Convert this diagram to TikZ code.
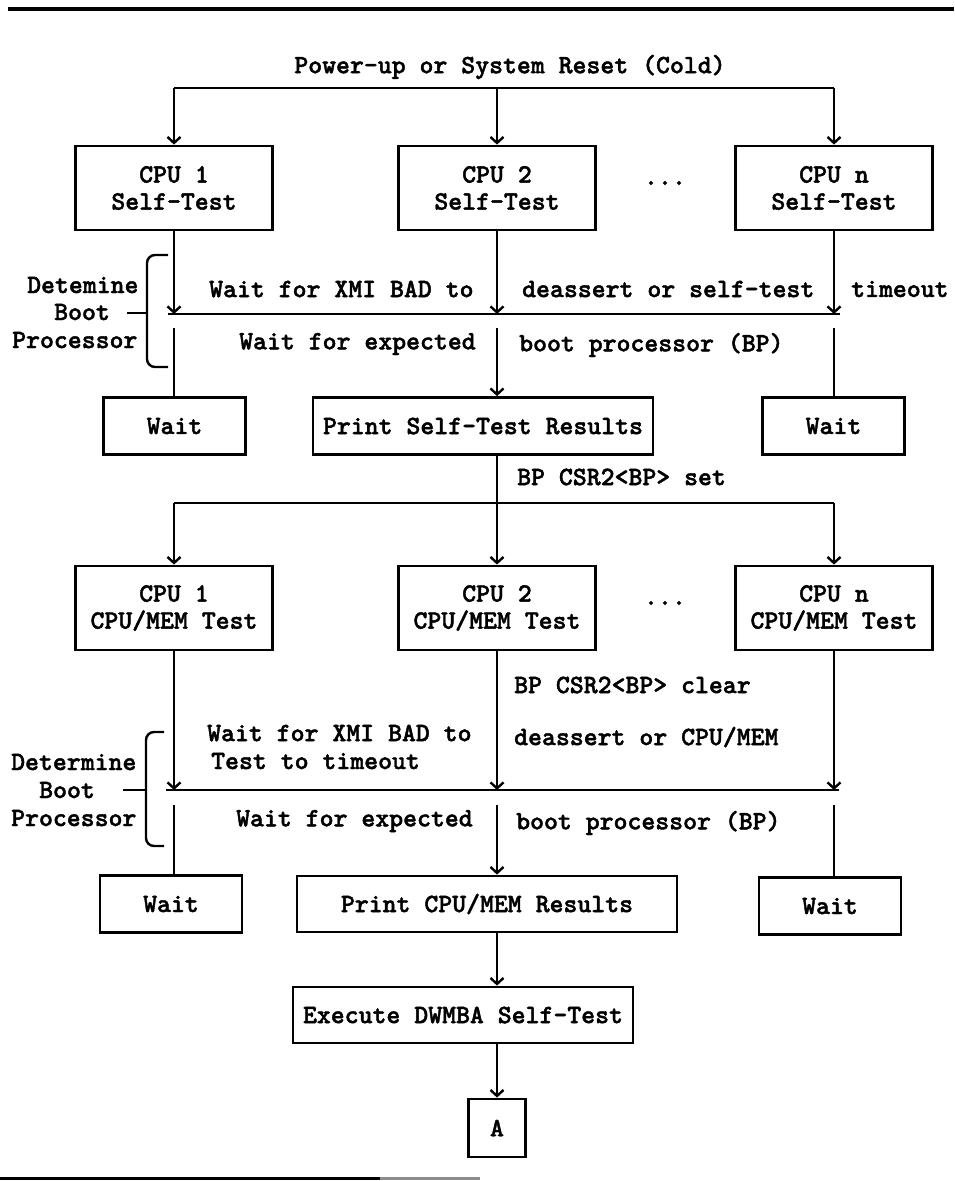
\documentclass[tikz,border=0pt]{standalone}
\usepackage{fontspec}
\usetikzlibrary{arrows.meta}
% heavy Latin Modern typewriter face for all labels
\newfontfamily\flowfont{lmmonolt10-bold}[Extension=.otf,FakeBold=1.6]
\begin{document}
\begin{tikzpicture}[x=1pt,y=-1pt,
  every node/.style={font=\flowfont\fontsize{26.5}{27}\selectfont},
  conn/.style={line width=2.4pt},
  arr/.style={conn,-{Straight Barb[length=6pt,width=13pt]}},
  box/.style={draw,line width=2.8pt,inner sep=0pt,align=center},
  cpubox/.style={box,minimum width=197pt,minimum height=84pt},
  waitbox/.style={box,minimum width=142pt,minimum height=57pt},
  lbl/.style={anchor=west,inner sep=0pt},
  brace/.style={line width=2.4pt,rounded corners=8pt}]
\useasboundingbox (0,0) rectangle (954,1181);

% column positions
\def\ca{174}\def\cb{497}\def\cc{834}

% page rules
\draw[line width=4pt] (8,9) -- (954,9);
\draw[line width=3pt] (0,1178) -- (380,1178);
\draw[line width=3pt,black!45] (380,1178) -- (480,1178);

% ---------- self-test stage ----------
\node (title) at (510,67) {Power-up or System Reset (Cold)};
\coordinate (da) at (\ca,88);
\coordinate (db) at (\cb,88);
\coordinate (dc) at (\cc,88);
\draw[conn] (da) -- (dc);

\node[cpubox] (st1) at (\ca,188) {CPU 1\\Self-Test};
\node[cpubox] (st2) at (\cb,188) {CPU 2\\Self-Test};
\node[cpubox] (stn) at (\cc,188) {CPU n\\Self-Test};
\node (dots1) at (665,183) {...};
\draw[arr] (da) -- (st1);
\draw[arr] (db) -- (st2);
\draw[arr] (dc) -- (stn);

% synchronisation line
\coordinate (sa) at (\ca,314);
\coordinate (sb) at (\cb,314);
\coordinate (sc) at (\cc,314);
\coordinate (sl) at (168,314);
\coordinate (sr) at (840,314);
\draw[conn] (sl) -- (sr);
\draw[arr] (st1) -- (sa);
\draw[arr] (st2) -- (sb);
\draw[arr] (stn) -- (sc);

\node[lbl] (w1) at (209,289) {Wait for XMI BAD to};
\node[lbl] (w2) at (522,289) {deassert or self-test};
\node[lbl] (w3) at (851,289) {timeout};
\node[lbl] (w4) at (239,344) {Wait for expected};
\node[lbl] (w5) at (519,345) {boot processor (BP)};

% boot processor brace
\coordinate (bra1) at (168,255);
\coordinate (brb1) at (168,367);
\coordinate (brt1) at (127,313);
\draw[brace] (bra1) -- (147,255) -- (147,367) -- (brb1);
\draw[conn] (147,313) -- (brt1);
\node[lbl] (bp1a) at (27,285) {Detemine};
\node[lbl] (bp1b) at (54,312) {Boot};
\node[lbl] (bp1c) at (12,340) {Processor};

\node[waitbox] (wl1) at (174.5,426) {Wait};
\node[box,minimum width=340pt,minimum height=57pt] (pr1) at (483,426) {Print Self-Test Results};
\node[waitbox] (wr1) at (833.5,426) {Wait};
\coordinate (ga) at (\ca,328);
\coordinate (gb) at (\cb,328);
\coordinate (gc) at (\cc,328);
\draw[conn] (ga) -- (ga |- wl1.north);
\draw[arr] (gb) -- (gb |- pr1.north);
\draw[conn] (gc) -- (gc |- wr1.north);

\node[lbl] (bpset) at (517,477) {BP CSR2<BP> set};

% ---------- CPU/MEM stage ----------
\coordinate (ea) at (\ca,503);
\coordinate (eb) at (\cb,503);
\coordinate (ec) at (\cc,503);
\draw[conn] (ea) -- (ec);

\node[cpubox] (mt1) at (\ca,608) {CPU 1\\CPU/MEM Test};
\node[cpubox] (mt2) at (\cb,608) {CPU 2\\CPU/MEM Test};
\node[cpubox] (mtn) at (\cc,608) {CPU n\\CPU/MEM Test};
\node (dots2) at (665,603) {...};
\draw[arr] (eb |- pr1.south) -- (mt2);
\draw[arr] (ea) -- (mt1);
\draw[arr] (ec) -- (mtn);

\node[lbl] (bpclr) at (514,685) {BP CSR2<BP> clear};

\coordinate (ta) at (\ca,790);
\coordinate (tb) at (\cb,790);
\coordinate (tc) at (\cc,790);
\coordinate (tl) at (166,790);
\coordinate (tr) at (839,790);
\draw[conn] (tl) -- (tr);
\draw[arr] (mt1) -- (ta);
\draw[arr] (mt2) -- (tb);
\draw[arr] (mtn) -- (tc);

\node[lbl] (x1) at (207,733) {Wait for XMI BAD to};
\node[lbl] (x2) at (211,761) {Test to timeout};
\node[lbl] (x3) at (514,737) {deassert or CPU/MEM};
\node[lbl] (x4) at (236,821) {Wait for expected};
\node[lbl] (x5) at (516,823) {boot processor (BP)};

\coordinate (bra2) at (164,732);
\coordinate (brb2) at (164,846);
\coordinate (brt2) at (123,790);
\draw[brace] (bra2) -- (146,732) -- (146,846) -- (brb2);
\draw[conn] (146,790) -- (brt2);
\node[lbl] (bp2a) at (11,762) {Determine};
\node[lbl] (bp2b) at (39,790) {Boot};
\node[lbl] (bp2c) at (11,818) {Processor};

\node[waitbox] (wl2) at (171,904) {Wait};
\node[box,minimum width=380pt,minimum height=56pt] (pr2) at (487,904) {Print CPU/MEM Results};
\node[waitbox] (wr2) at (830,906) {Wait};
\coordinate (ha) at (\ca,805);
\coordinate (hb) at (\cb,805);
\coordinate (hc) at (\cc,805);
\draw[conn] (ha) -- (ha |- wl2.north);
\draw[arr] (hb) -- (hb |- pr2.north);
\draw[conn] (hc) -- (hc |- wr2.north);

% ---------- adapter self-test ----------
\node[box,minimum width=340pt,minimum height=56pt] (dw) at (463,1015) {Execute DWMBA Self-Test};
\draw[arr] (hb |- pr2.south) -- (hb |- dw.north);
\node[box,minimum width=57pt,minimum height=58pt] (A) at (\cb,1128) {A};
\draw[arr] (hb |- dw.south) -- (A);

\end{tikzpicture}
\end{document}
